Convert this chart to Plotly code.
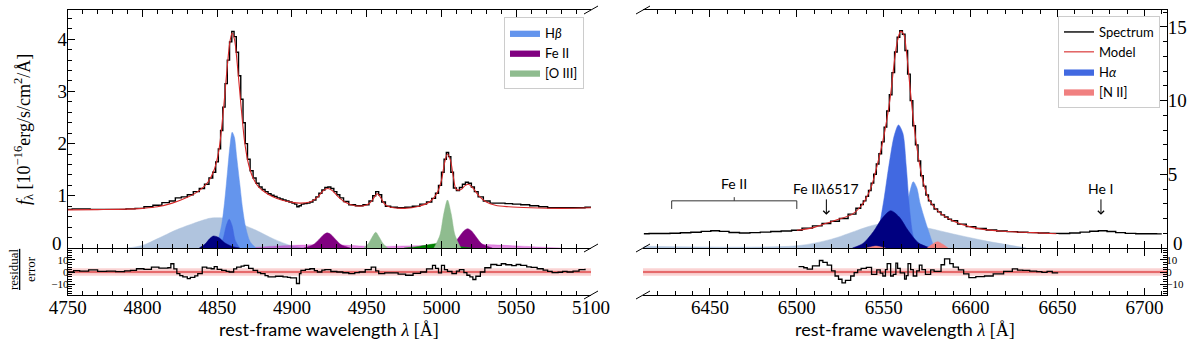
import plotly.graph_objects as go

# ---------------- data: H-beta window ----------------
hb_spec_wl = [4750, 4756, 4762, 4768, 4774, 4780, 4786, 4792, 4798, 4804, 4810, 4816, 4820, 4824,
              4828, 4832, 4836, 4840, 4843, 4846, 4848, 4850, 4851.5, 4853, 4854.5, 4856, 4857.5,
              4859, 4860.5, 4862, 4863.5, 4865, 4866.5, 4868, 4869.5, 4871, 4873, 4875, 4877,
              4879, 4881, 4883, 4885, 4887, 4889, 4891, 4893, 4895, 4897, 4899, 4901, 4902.5,
              4904, 4905.5, 4907, 4909, 4911, 4913, 4915, 4917, 4919, 4921, 4923, 4925, 4927,
              4929, 4931, 4933, 4936, 4940, 4945, 4950, 4953, 4955, 4957, 4959, 4961, 4964, 4968,
              4973, 4978, 4983, 4988, 4992, 4995, 4997, 4999, 5001, 5002.5, 5004, 5005.5, 5007,
              5009, 5011, 5013, 5015, 5017, 5019, 5021, 5023, 5026, 5030, 5035, 5040, 5045, 5050,
              5056, 5062, 5068, 5074, 5080, 5086, 5092, 5100]
hb_spec_flux = [0.74, 0.75, 0.75, 0.74, 0.74, 0.74, 0.74, 0.75, 0.76, 0.79, 0.82, 0.87, 0.90, 0.96,
                0.98, 1.02, 1.08, 1.14, 1.22, 1.34, 1.45, 1.65, 1.9, 2.25, 2.7, 3.15, 3.6,
                3.95, 4.15, 4.05, 3.75, 3.3, 2.85, 2.4, 2.0, 1.7, 1.48, 1.34, 1.24,
                1.17, 1.12, 1.08, 1.04, 1.01, 0.99, 0.96, 0.94, 0.92, 0.90, 0.88, 0.86, 0.84,
                0.79, 0.81, 0.84, 0.85, 0.86, 0.88, 0.92, 0.98, 1.05, 1.11, 1.16, 1.17, 1.14,
                1.08, 1.02, 0.96, 0.89, 0.83, 0.81, 0.83, 0.90, 1.0, 1.08, 1.02, 0.88, 0.80, 0.78,
                0.77, 0.78, 0.80, 0.84, 0.88, 0.95, 1.05, 1.2, 1.45, 1.7, 1.83, 1.75, 1.45,
                1.15, 1.1, 1.16, 1.22, 1.26, 1.24, 1.17, 1.08, 0.98, 0.90, 0.86, 0.86, 0.85, 0.84,
                0.83, 0.81, 0.79, 0.77, 0.77, 0.77, 0.77, 0.78]
hb_model_wl = [4750, 4770, 4790, 4800, 4810, 4820, 4830, 4838, 4844, 4848, 4851, 4854, 4856.5,
               4858.5, 4860, 4861.5, 4863.5, 4866, 4868.5, 4871, 4874, 4878, 4884, 4890, 4897,
               4905, 4912, 4917, 4921, 4924, 4927, 4931, 4936, 4942, 4948, 4952, 4955, 4957, 4959,
               4962, 4966, 4975, 4985, 4992, 4997, 5000, 5002, 5004, 5006, 5008, 5010, 5013, 5016,
               5018, 5021, 5025, 5030, 5036, 5045, 5060, 5080, 5100]
hb_model_flux = [0.73, 0.735, 0.745, 0.76, 0.79, 0.86, 0.97, 1.1, 1.27, 1.5, 1.85, 2.6, 3.4,
                 3.95, 4.12, 4.0, 3.5, 2.7, 2.0, 1.6, 1.34, 1.16, 1.03, 0.95, 0.89,
                 0.86, 0.88, 0.97, 1.1, 1.14, 1.1, 0.98, 0.87, 0.81, 0.81, 0.86, 0.97, 1.04, 0.98,
                 0.84, 0.78, 0.76, 0.8, 0.88, 1.05, 1.3, 1.62, 1.8, 1.68, 1.35, 1.12, 1.12, 1.2,
                 1.22, 1.15, 1.0, 0.88, 0.82, 0.79, 0.77, 0.76, 0.77]

hb_broad_wl = [4790, 4800, 4811, 4822, 4834, 4845, 4850, 4855, 4865, 4876, 4888, 4899, 4910]
hb_broad_flux = [0, 0.05, 0.19, 0.34, 0.47, 0.57, 0.58, 0.57, 0.47, 0.34, 0.17, 0.05, 0]
hb_narrow_wl = [4846, 4850, 4853, 4855, 4857, 4858.5, 4860, 4861.5, 4863, 4865, 4867, 4869, 4872, 4876]
hb_narrow_flux = [0, 0.12, 0.45, 0.9, 1.5, 1.95, 2.22, 2.12, 1.75, 1.25, 0.75, 0.4, 0.12, 0]
hb_mid_wl = [4851, 4854, 4856, 4858, 4860, 4862, 4865]
hb_mid_flux = [0, 0.18, 0.42, 0.55, 0.42, 0.15, 0]
hb_navy_wl = [4838, 4842, 4845, 4847.5, 4851, 4855, 4860, 4865]
hb_navy_flux = [0, 0.08, 0.18, 0.23, 0.2, 0.1, 0.03, 0]

feii_broad_wl = [4870, 4885, 4900, 4915, 4930, 4945, 4960, 4975, 4990, 5005, 5020, 5035, 5050, 5065, 5080]
feii_broad_flux = [0, 0.03, 0.05, 0.06, 0.06, 0.04, 0.03, 0.04, 0.05, 0.06, 0.07, 0.06, 0.04, 0.02, 0]
feii_a_wl = [4908, 4914, 4918, 4921, 4923.5, 4926, 4929, 4933, 4939]
feii_a_flux = [0, 0.06, 0.16, 0.25, 0.29, 0.26, 0.17, 0.06, 0]
feii_b_wl = [5002, 5008, 5012, 5015, 5017.5, 5020, 5023, 5027, 5034]
feii_b_flux = [0, 0.08, 0.22, 0.33, 0.37, 0.33, 0.22, 0.08, 0]

oiii_wing_wl = [4975, 4985, 4993, 4999, 5005, 5012, 5020]
oiii_wing_flux = [0, 0.03, 0.07, 0.09, 0.07, 0.03, 0]
oiii_a_wl = [4948, 4951, 4953.5, 4956, 4958.5, 4961, 4964]
oiii_a_flux = [0, 0.08, 0.2, 0.3, 0.2, 0.08, 0]
oiii_b_wl = [4995, 4999, 5001.5, 5004, 5006.5, 5009, 5013]
oiii_b_flux = [0, 0.25, 0.65, 0.92, 0.65, 0.25, 0]

hb_res_wl = [4750, 4754, 4758, 4764, 4770, 4776, 4782, 4788, 4792, 4796, 4801, 4806, 4811, 4817,
             4819, 4821, 4823, 4825, 4827, 4830, 4832, 4835, 4837, 4840, 4843, 4846, 4848, 4850,
             4853, 4856, 4858, 4861, 4863, 4866, 4868, 4871, 4874, 4877, 4879, 4882, 4884, 4889,
             4894, 4897, 4899, 4903, 4905, 4906, 4909, 4912, 4915, 4917, 4920, 4922, 4926, 4930,
             4934, 4938, 4942, 4945, 4949, 4953, 4956, 4958, 4962, 4966, 4971, 4976, 4981, 4986,
             4990, 4994, 4996, 4998, 5000, 5002, 5004, 5007, 5010, 5012, 5015, 5017, 5019, 5021,
             5023, 5026, 5029, 5033, 5037, 5040, 5043, 5047, 5050, 5053, 5057, 5060, 5064, 5068,
             5071, 5074, 5078, 5081, 5084, 5088, 5092, 5096]
hb_res = [0, 1.2, 0.8, 1.8, 0.5, 0.8, 0.3, 0.9, 1.4, 2.7, 2.2, 4, 3.2, 3.5,
          6.8, 2.5, -1.4, -3, -4, -5.4, -4.5, -3.2, -1.4, 4, 3.2, 2.7, 4.5, 2.2,
          1.4, 0.5, 0, 2.5, 4, 4.8, 5.4, 3, 1.4, -0.5, -1.4, -3, -4, -3.5,
          -4, -4.5, -4.9, -9.5, -1.4, 1.4, 2.2, 2.7, 1.2, 0, 1.5, 1.9, 0.4, 0,
          -0.6, -1.4, -0.5, 0, 2, 4, 1, -1.4, -0.8, -0.8, -1.8, -2.7, -1.2, 0,
          2.5, 5.4, 3, -0.8, 5.4, 2, 0.5, -1.4, 0.8, 1.9, -0.5, -2.7, -4, -6.2,
          -3.5, 0, 3.5, 6.2, 5.5, 6.8, 6, 5.2, 6.2, 5.4, 4.2, 3.8, 2.7, 1.5,
          0.5, -0.5, -0.2, 0.5, 0, 0.8, 1.9, 2.7]

# ---------------- data: H-alpha window ----------------
ha_spec_wl = [6412, 6418, 6424, 6430, 6436, 6442, 6448, 6453, 6458, 6464, 6470, 6476, 6482, 6488,
              6494, 6500, 6506, 6512, 6517, 6522, 6527, 6532, 6536, 6537.5, 6539, 6540.5, 6542,
              6543.5, 6545, 6546.5, 6548, 6549.5, 6551, 6552.5, 6554, 6555.5, 6557, 6558.5, 6560,
              6561.5, 6563, 6564.5, 6566, 6567.5, 6569, 6570.5, 6572, 6573.5, 6575, 6576.5, 6578,
              6580, 6582, 6584, 6586, 6588, 6590, 6595, 6600, 6606, 6612, 6618, 6624, 6630, 6636,
              6642, 6648, 6654, 6660, 6666, 6671, 6676, 6681, 6686, 6692, 6698, 6704, 6710]
ha_spec_flux = [0.97, 0.98, 0.98, 1.0, 1.03, 1.07, 1.13, 1.17, 1.13, 1.05, 1.02, 1.04, 1.08, 1.12,
                1.15, 1.2, 1.35, 1.5, 1.66, 1.82, 2.0, 2.3, 2.7, 2.95, 3.2, 3.5, 3.9,
                4.4, 5.0, 5.7, 6.4, 7.2, 8.2, 9.3, 10.4, 11.9, 13.3, 14.3, 14.75,
                14.5, 13.4, 11.8, 10.0, 8.3, 7.0, 5.9, 4.9, 4.2, 3.6, 3.2, 2.95,
                2.65, 2.45, 2.25, 2.1, 1.95, 1.85, 1.62, 1.45, 1.32, 1.22, 1.15, 1.11, 1.07, 1.04,
                1.02, 0.99, 0.98, 1.02, 1.08, 1.14, 1.17, 1.12, 1.04, 0.99, 0.97, 0.97, 0.96]
ha_model_wl = [6500, 6510, 6517, 6524, 6532, 6537, 6540, 6543, 6546, 6549.6, 6553.5, 6556.4, 6558,
               6559.8, 6561.5, 6563, 6565.9, 6568.8, 6572.6, 6576.5, 6582.2, 6589.9, 6601.4,
               6616.7, 6635.9, 6649.3]
ha_model_flux = [1.2, 1.4, 1.68, 1.95, 2.3, 2.85, 3.4, 4.2, 5.5, 7.3, 10.0, 12.9, 14.1,
                 14.7, 14.5, 13.4, 10.0, 7.06, 4.55, 3.19, 2.4, 1.83, 1.38,
                 1.15, 1.04, 0.97]

ha_broad_wl = [6412, 6500, 6520, 6546, 6560, 6575, 6590, 6610, 6632]
ha_broad_flux = [0.12, 0.15, 0.6, 1.6, 1.6, 1.36, 0.95, 0.45, 0]
ha_navy_wl = [6532, 6538, 6544, 6549, 6554, 6559, 6564, 6570, 6577]
ha_navy_flux = [0, 0.3, 1.1, 2.0, 2.53, 2.1, 1.2, 0.35, 0]
ha_royal_wl = [6543, 6547, 6550, 6553, 6556, 6558.5, 6561, 6563, 6565, 6567, 6570]
ha_royal_flux = [0, 1.3, 3.2, 5.6, 7.6, 8.35, 7.8, 5.5, 2.5, 0.8, 0]
ha_cf_wl = [6556, 6560, 6563, 6565, 6567, 6569, 6571, 6574, 6576.5, 6579]
ha_cf_flux = [0, 1.0, 2.6, 3.8, 4.5, 4.1, 3.0, 1.8, 0.9, 0]
nii_a_wl = [6540, 6543, 6545.5, 6548, 6551]
nii_a_flux = [0, 0.08, 0.13, 0.08, 0]
nii_b_wl = [6575, 6578, 6581, 6584, 6587]
nii_b_flux = [0, 0.25, 0.43, 0.25, 0]

ha_res_wl = [6501, 6504, 6506, 6509, 6513, 6515, 6517.5, 6520, 6522, 6524, 6526, 6528, 6531,
             6533, 6535, 6537, 6540, 6543, 6546, 6548, 6549.5, 6551, 6552, 6554, 6555.5, 6557,
             6558, 6559.5, 6562, 6563, 6564, 6565.5, 6567, 6569, 6570.5, 6572, 6574, 6577,
             6579, 6581.5, 6583, 6585, 6588, 6590, 6593, 6596, 6599, 6603, 6608, 6613, 6619,
             6624, 6627, 6630, 6634, 6638, 6641, 6644, 6647, 6650]
ha_res = [4.4, 3.5, 2.3, 5, 9.5, 8, 5.6, 1, -3.3, -6, -9, -7, -3.3,
          -0.5, 1.8, 3, 3.8, -2, 1.8, -1, -3.3, 2, 6.9, -3.3, -2, 7.4,
          3, -0.8, -5.9, -3, 6.9, 2, -3.3, 1, 5.6, 2, -2, 1.8,
          0.5, 0.5, 6, 10.8, 6.9, 4, 1.8, -1.5, -4.6, -3.8, -3.3, -1.5, 0.5,
          2.6, 1.5, 1.3, 0.8, 0.3, -0.3, 0.5, -0.8, -1.3]

# tick labels of the flux axes (the zero is placed separately, clear of the residual axis)
hb_flux_ticks = [0, 1, 2, 3, 4]
hb_flux_labels = ['', '1', '2', '3', '4']
ha_flux_ticks = [0, 5, 10, 15]
ha_flux_labels = ['', '5', '10', '15']

# annotation positions (wavelength, flux)
feii_bracket_wl = [6428, 6428, 6500, 6500]
feii_bracket_flux = [2.65, 3.2, 3.2, 2.65]
feii_tick_wl = [6464, 6464]
feii_tick_flux = [3.2, 3.45]

hb_range = [4750, 5100]
ha_range = [6411.5, 6713]
res_band = 3
res_core = 1

W, H = 1200, 347
SERIF = "Liberation Serif"
SANS = "Lato"


def px(x):
    return x / W


def py(y):
    return 1 - y / H


fig = go.Figure()


def comp(x, y, color, xa, ya, name=None, legend=None, showlegend=False, group=None):
    fig.add_trace(go.Scatter(
        x=x, y=y, mode='lines', fill='tozeroy', fillcolor=color,
        line=dict(color=color, width=0.5, shape='spline', smoothing=0.8),
        xaxis=xa, yaxis=ya, name=name, showlegend=showlegend,
        legend=legend, legendgroup=group, hoverinfo='skip'
    ))


# H-beta panel components
comp(hb_broad_wl, hb_broad_flux, '#b0c4de', 'x', 'y')
comp(feii_broad_wl, feii_broad_flux, 'rgba(191,0,191,0.45)', 'x', 'y')
comp(hb_narrow_wl, hb_narrow_flux, '#6495ed', 'x', 'y', 'H<i>β</i>', 'legend', True)
comp(hb_mid_wl, hb_mid_flux, '#4169e1', 'x', 'y')
comp(hb_navy_wl, hb_navy_flux, '#000080', 'x', 'y')
comp(feii_a_wl, feii_a_flux, '#800080', 'x', 'y', 'Fe II', 'legend', True)
comp(feii_b_wl, feii_b_flux, '#800080', 'x', 'y')
comp(oiii_wing_wl, oiii_wing_flux, '#008000', 'x', 'y')
comp(oiii_a_wl, oiii_a_flux, '#8fbc8f', 'x', 'y', '[O III]', 'legend', True)
comp(oiii_b_wl, oiii_b_flux, '#8fbc8f', 'x', 'y')

fig.add_trace(go.Scatter(x=hb_spec_wl, y=hb_spec_flux, mode='lines', showlegend=False,
                         line=dict(color='black', width=1.4, shape='hvh'), xaxis='x', yaxis='y'))
fig.add_trace(go.Scatter(x=hb_model_wl, y=hb_model_flux, mode='lines', showlegend=False,
                         line=dict(color='#d62728', width=1.1, shape='spline'), xaxis='x', yaxis='y'))

# H-alpha panel components
comp(ha_broad_wl, ha_broad_flux, '#b0c4de', 'x3', 'y3')
comp(ha_cf_wl, ha_cf_flux, '#6495ed', 'x3', 'y3')
comp(ha_royal_wl, ha_royal_flux, '#4169e1', 'x3', 'y3')
comp(ha_navy_wl, ha_navy_flux, '#000080', 'x3', 'y3')
comp(nii_a_wl, nii_a_flux, '#f08080', 'x3', 'y3', '[N II]', 'legend2', False, 'nii')
comp(nii_b_wl, nii_b_flux, '#f08080', 'x3', 'y3', '[N II]', 'legend2', False, 'nii')

fig.add_trace(go.Scatter(x=ha_spec_wl, y=ha_spec_flux, mode='lines', name='Spectrum',
                         legend='legend2', legendrank=1,
                         line=dict(color='black', width=1.4, shape='hvh'), xaxis='x3', yaxis='y3'))
fig.add_trace(go.Scatter(x=ha_model_wl, y=ha_model_flux, mode='lines', name='Model',
                         legend='legend2', legendrank=2,
                         line=dict(color='#d62728', width=1.1, shape='spline'), xaxis='x3', yaxis='y3'))
# legend-only patches for the H-alpha panel
fig.add_trace(go.Scatter(x=[None], y=[None], mode='lines', fill='tozeroy', fillcolor='#4169e1',
                         line=dict(color='#4169e1', width=0.5), name='H<i>α</i>',
                         legend='legend2', legendrank=3, xaxis='x3', yaxis='y3'))
fig.add_trace(go.Scatter(x=[None], y=[None], mode='lines', fill='tozeroy', fillcolor='#f08080',
                         line=dict(color='#f08080', width=0.5), name='[N II]',
                         legend='legend2', legendrank=4, xaxis='x3', yaxis='y3'))

# Fe II bracket
fig.add_trace(go.Scatter(x=feii_bracket_wl, y=feii_bracket_flux, mode='lines', showlegend=False,
                         line=dict(color='#333333', width=1), xaxis='x3', yaxis='y3'))
fig.add_trace(go.Scatter(x=feii_tick_wl, y=feii_tick_flux, mode='lines', showlegend=False,
                         line=dict(color='#333333', width=1), xaxis='x3', yaxis='y3'))

# residuals
fig.add_trace(go.Scatter(x=hb_res_wl, y=hb_res, mode='lines', showlegend=False,
                         line=dict(color='black', width=1.3, shape='hv'), xaxis='x2', yaxis='y2'))
fig.add_trace(go.Scatter(x=ha_res_wl, y=ha_res, mode='lines', showlegend=False,
                         line=dict(color='black', width=1.3, shape='hv'), xaxis='x4', yaxis='y4'))

shapes = []
for xr, yr, rng in [('x2', 'y2', hb_range), ('x4', 'y4', ha_range)]:
    shapes.append(dict(type='rect', xref=xr, yref=yr, x0=rng[0], x1=rng[1], y0=-res_band, y1=res_band,
                       fillcolor='rgba(240,128,128,0.35)', line=dict(width=0), layer='below'))
    shapes.append(dict(type='rect', xref=xr, yref=yr, x0=rng[0], x1=rng[1], y0=-res_core, y1=res_core,
                       fillcolor='rgba(240,128,128,0.45)', line=dict(width=0), layer='below'))
    shapes.append(dict(type='line', xref=xr, yref=yr, x0=rng[0], x1=rng[1], y0=0, y1=0,
                       line=dict(color='#d62728', width=1), layer='below'))

# axis-break slashes
for cx in [591, 643]:
    for cy in [10, 248, 295]:
        shapes.append(dict(type='line', xref='paper', yref='paper',
                           x0=px(cx - 7), y0=py(cy + 4), x1=px(cx + 7), y1=py(cy - 4),
                           line=dict(color='black', width=1)))

X_LEFT = [px(67.7), px(591)]
X_RIGHT = [px(643), px(1167)]
Y_MAIN = [py(248), py(10)]
Y_RES = [py(295), py(249)]


def xaxis(domain, anchor, rng, labels):
    return dict(domain=domain, anchor=anchor, range=rng, showline=True, linecolor='black',
                linewidth=1, mirror='ticks', ticks='inside', ticklen=7, tickwidth=1,
                tickcolor='black', tick0=0, dtick=50,
                minor=dict(ticks='inside', ticklen=4, tickwidth=1, tickcolor='black', dtick=10),
                showticklabels=labels, showgrid=False, zeroline=False, automargin=False,
                ticklabelstandoff=-5,
                tickfont=dict(family=SERIF, size=19, color='black'))


def yaxis(domain, anchor, rng, dtick, mdtick, side, size, vals=None, text=None):
    ax = dict(domain=domain, anchor=anchor, range=rng, side=side, showline=True,
              linecolor='black', linewidth=1, mirror=False, ticks='inside', ticklen=7,
              tickwidth=1, tickcolor='black', tick0=0, dtick=dtick,
              minor=dict(ticks='inside', ticklen=4, tickwidth=1, tickcolor='black', dtick=mdtick),
              showgrid=False, zeroline=False, automargin=False, ticklabelstandoff=-4,
              tickfont=dict(family=SERIF, size=size, color='black'))
    if vals is not None:
        ax.update(tickmode='array', tickvals=vals, ticktext=text)
    return ax


def note(text, x, y, size, family=SANS, angle=0, xanchor='center'):
    return dict(text=text, x=x, y=y, xref='paper', yref='paper', showarrow=False,
                textangle=angle, xanchor=xanchor, yanchor='middle',
                font=dict(family=family, size=size, color='black'))


annotations = [
    note("<i>f</i><sub>λ</sub> [10<sup>−16</sup>erg/s/cm<sup>2</sup>/Å]", px(23), py(130), 18,
         SERIF, -90),
    note("<u>residual</u><br>error", px(22), py(269), 13, SERIF, -90),
    note("0", px(64), py(243), 19, SERIF, 0, 'right'),
    note("0", px(1171), py(243), 19, SERIF, 0, 'left'),
    dict(text="Fe II", x=6464, y=4.35, xref='x3', yref='y3', showarrow=False,
         xanchor='center', yanchor='middle', font=dict(family=SANS, size=14, color='black')),
    dict(text="Fe II<i>λ</i>6517", x=6517, y=2.25, ax=6517, ay=3.3, axref='x3', ayref='y3',
         xref='x3', yref='y3', showarrow=True, arrowhead=4, arrowwidth=1, arrowsize=1.2,
         arrowcolor='black', font=dict(family=SANS, size=14, color='black'),
         xanchor='center', yanchor='bottom'),
    dict(text="He I", x=6675, y=2.25, ax=6675, ay=3.3, axref='x3', ayref='y3',
         xref='x3', yref='y3', showarrow=True, arrowhead=4, arrowwidth=1, arrowsize=1.2,
         arrowcolor='black', font=dict(family=SANS, size=14, color='black'),
         xanchor='center', yanchor='bottom'),
]
xt = "rest-frame wavelength <span style='font-family:Liberation Serif'><i>λ</i> [Å]</span>"
for xc in [329, 905]:
    annotations.append(note(xt, px(xc), py(329), 18))

legend_style = dict(bgcolor='white', bordercolor='#cccccc', borderwidth=1,
                    font=dict(family=SANS, size=13, color='black'),
                    xanchor='right', yanchor='top', itemwidth=30, tracegroupgap=0)

fig.update_layout(
    width=W, height=H,
    margin=dict(l=0, r=0, t=0, b=0),
    plot_bgcolor='white', paper_bgcolor='white',
    xaxis=xaxis(X_LEFT, 'y', hb_range, False),
    yaxis=yaxis(Y_MAIN, 'x', [0, 4.56], 1, 0.2, 'left', 19, hb_flux_ticks, hb_flux_labels),
    xaxis2=xaxis(X_LEFT, 'y2', hb_range, True),
    yaxis2=yaxis(Y_RES, 'x2', [-19, 19], 10, 2, 'left', 11),
    xaxis3=xaxis(X_RIGHT, 'y3', ha_range, False),
    yaxis3=yaxis(Y_MAIN, 'x3', [0, 16.15], 5, 1, 'right', 19, ha_flux_ticks, ha_flux_labels),
    xaxis4=xaxis(X_RIGHT, 'y4', ha_range, True),
    yaxis4=yaxis(Y_RES, 'x4', [-19, 19], 10, 2, 'right', 11),
    legend=dict(x=px(584), y=py(17), **legend_style),
    legend2=dict(x=px(1160), y=py(16), **legend_style),
    shapes=shapes,
    annotations=annotations,
    showlegend=True,
)

# drop the browser's default page margin so the figure sits at the window origin
fig.write_html("out.html", config={'displayModeBar': False},
               post_script="document.body.style.margin='0';")
